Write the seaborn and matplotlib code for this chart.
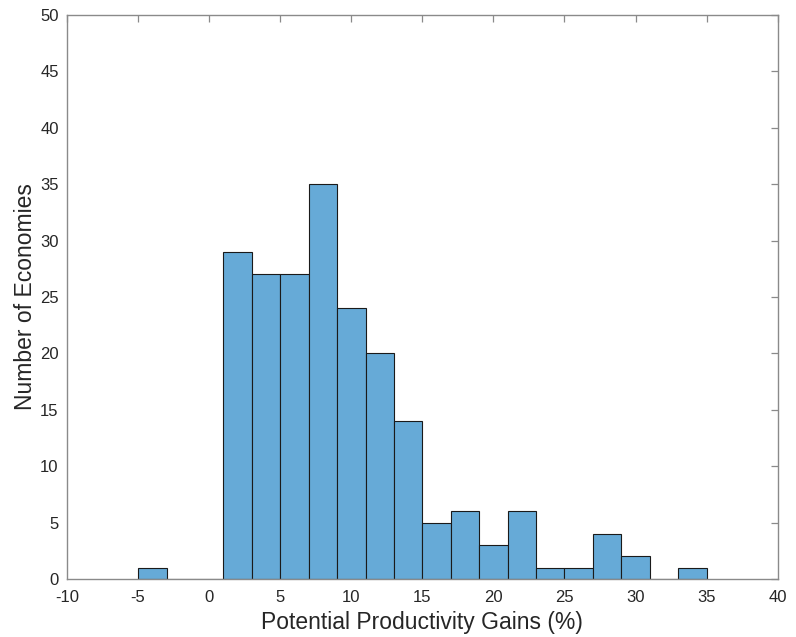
import numpy as np
import pandas as pd
import matplotlib
matplotlib.use("Agg")
import matplotlib.pyplot as plt
import seaborn as sns

# Histogram bins (width 2) and number of economies in each bin
bin_edges = [-5, -3, -1, 1, 3, 5, 7, 9, 11, 13, 15, 17, 19, 21, 23, 25, 27, 29, 31, 33, 35]
bin_counts = [1, 0, 0, 29, 27, 27, 35, 24, 20, 14, 5, 6, 3, 6, 1, 1, 4, 2, 0, 1]

x_ticks = [-10, -5, 0, 5, 10, 15, 20, 25, 30, 35, 40]
y_ticks = [0, 5, 10, 15, 20, 25, 30, 35, 40, 45, 50]

centers = [(a + b) / 2 for a, b in zip(bin_edges[:-1], bin_edges[1:])]
df = pd.DataFrame({"gain": centers, "count": bin_counts})

sns.set_style("white")
plt.rcParams["font.family"] = ["Liberation Sans", "DejaVu Sans"]
plt.rcParams["axes.unicode_minus"] = False

fig = plt.figure(figsize=(7.96, 6.37), dpi=100)
ax = fig.add_axes([0.0842, 0.091, 0.8928, 0.8855])

sns.histplot(data=df, x="gain", weights="count", bins=bin_edges, ax=ax,
             color="#66aad7", alpha=1.0, edgecolor="#1a1a1a", linewidth=0.8)

ax.set_xlim(-10, 40)
ax.set_ylim(0, 50)
ax.set_xticks(x_ticks)
ax.set_yticks(y_ticks)

axis_gray = "#8a8a8a"
text_col = "#262626"
for s in ax.spines.values():
    s.set_visible(True)
    s.set_color(axis_gray)
    s.set_linewidth(1.0)
ax.tick_params(direction="in", length=5, width=0.9, color=axis_gray,
               top=True, right=True, labelsize=12, labelcolor=text_col)
ax.tick_params(axis="x", pad=8)
ax.tick_params(axis="y", pad=6)

ax.set_xlabel("Potential Productivity Gains (%)", fontsize=16.5, color=text_col, labelpad=4)
ax.set_ylabel("Number of Economies", fontsize=16.5, color=text_col, labelpad=2)

fig.savefig("out.png", dpi=100)
